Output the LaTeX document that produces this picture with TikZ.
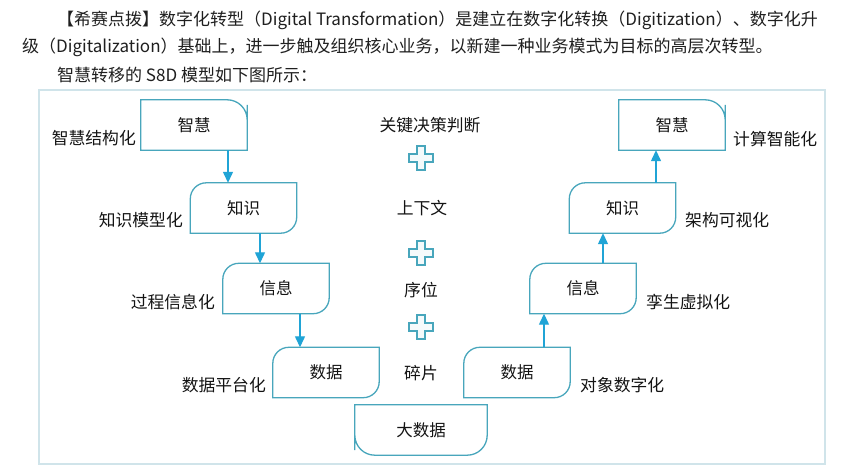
\documentclass[tikz,border=0pt]{standalone}
\usepackage{fontspec}
\setmainfont{Noto Sans CJK SC}
\usepackage{xcolor}
\usetikzlibrary{arrows.meta,positioning}
\definecolor{boxteal}{RGB}{72,166,188}
\definecolor{arrowblue}{RGB}{32,164,214}
\definecolor{framegray}{RGB}{208,228,234}
\definecolor{inkdark}{RGB}{20,20,20}
\tikzstyle{stage} = [minimum width=106pt, minimum height=50pt, inner sep=0pt,
  font=\fontsize{16.5}{18}\selectfont, text=inkdark]
\tikzstyle{note} = [inner sep=0pt, font=\fontsize{16.8}{18}\selectfont, text=inkdark]
\tikzstyle{headline} = [inner sep=0pt, anchor=west,
  font=\fontsize{17}{19}\selectfont, text=black!88]
\tikzstyle{edge} = [boxteal, line width=1.3pt]
\tikzstyle{flow} = [arrowblue, line width=1.3pt, -{Triangle[length=11pt,width=10pt]}]
\tikzstyle{plussign} = [boxteal, line width=1.1pt, fill=boxteal!6]
% outline of a stage box: NE, SE, SW, NW corner options
\newcommand{\stageoutline}[5]{%
  \draw[edge] (#1.north) [#2] -- (#1.north east) -- (#1.east)
    [#3] -- (#1.south east) -- (#1.south)
    [#4] -- (#1.south west) -- (#1.west)
    [#5] -- (#1.north west) -- cycle;}

\begin{document}
\begin{tikzpicture}[x=1pt,y=-1pt]
    \useasboundingbox (0,0) rectangle (846,470);
    \fill[white] (0,0) rectangle (846,470);
    \node[headline] (h1) at (57,20)
      {【希赛点拨】数字化转型（Digital Transformation）是建立在数字化转换（Digitization）、数字化升};
    \node[headline] (h2) at (22,47)
      {级（Digitalization）基础上，进一步触及组织核心业务，以新建一种业务模式为目标的高层次转型。};
    \node[headline] (h3) at (57,75) {智慧转移的 S8D 模型如下图所示：};
    \draw[framegray, line width=1.5pt] (39,90) rectangle (825,464);
    % left stages
    \node[stage] (l1) at (194,125) {智慧};
    \node[stage] (l2) at (243.5,208) {知识};
    \node[stage] (l3) at (276,288.5) {信息};
    \node[stage] (l4) at (326,372.5) {数据};
    % bottom
    \node[stage, minimum width=132pt] (b) at (421,430) {大数据};
    % right stages
    \node[stage] (r4) at (517,372.5) {数据};
    \node[stage] (r3) at (583,288.5) {信息};
    \node[stage] (r2) at (622.5,208) {知识};
    \node[stage] (r1) at (672,125) {智慧};
    \stageoutline{l1}{rounded corners=20pt}{sharp corners}{sharp corners}{sharp corners}
    \stageoutline{r1}{rounded corners=20pt}{sharp corners}{sharp corners}{sharp corners}
    \foreach \n in {l2,l3,l4,r2,r3,r4}
    \stageoutline{\n}{sharp corners}{rounded corners=16pt}{sharp corners}{rounded corners=16pt};
    \stageoutline{b}{sharp corners}{rounded corners=20pt}{rounded corners=20pt}{sharp corners}
    % side labels
    \node[note, anchor=east] (t1) at (136,138) {智慧结构化};
    \node[note, anchor=east] (t2) at (183,220) {知识模型化};
    \node[note, anchor=east] (t3) at (215,302) {过程信息化};
    \node[note, anchor=east] (t4) at (266,385) {数据平台化};
    \node[note, anchor=west] (s1) at (733,139) {计算智能化};
    \node[note, anchor=west] (s2) at (685,220) {架构可视化};
    \node[note, anchor=west] (s3) at (646,302) {孪生虚拟化};
    \node[note, anchor=west] (s4) at (580,385) {对象数字化};
    % middle column
    \node[note] (m1) at (430,125) {关键决策判断};
    \node[note] (m2) at (422,208) {上下文};
    \node[note] (m3) at (421,290) {序位};
    \node[note] (m4) at (421,373) {碎片};
    \foreach \y in {158,253,327}
    \draw[plussign] (417,\y-12) -- (425,\y-12) -- (425,\y-4) -- (433,\y-4)
      -- (433,\y+4) -- (425,\y+4) -- (425,\y+12) -- (417,\y+12) -- (417,\y+4)
      -- (409,\y+4) -- (409,\y-4) -- (417,\y-4) -- cycle;
    % arrows
    \draw[flow] ([xshift=34pt]l1.south) -- ([xshift=34pt]l1.south |- l2.north);
    \draw[flow] ([xshift=16.5pt]l2.south) -- ([xshift=16.5pt]l2.south |- l3.north);
    \draw[flow] ([xshift=24pt]l3.south) -- ([xshift=24pt]l3.south |- l4.north);
    \draw[flow] ([xshift=27pt]r4.north) -- ([xshift=27pt]r4.north |- r3.south);
    \draw[flow] ([xshift=20pt]r3.north) -- ([xshift=20pt]r3.north |- r2.south);
    \draw[flow] ([xshift=33.5pt]r2.north) -- ([xshift=33.5pt]r2.north |- r1.south);
    \end{tikzpicture}
\end{document}
